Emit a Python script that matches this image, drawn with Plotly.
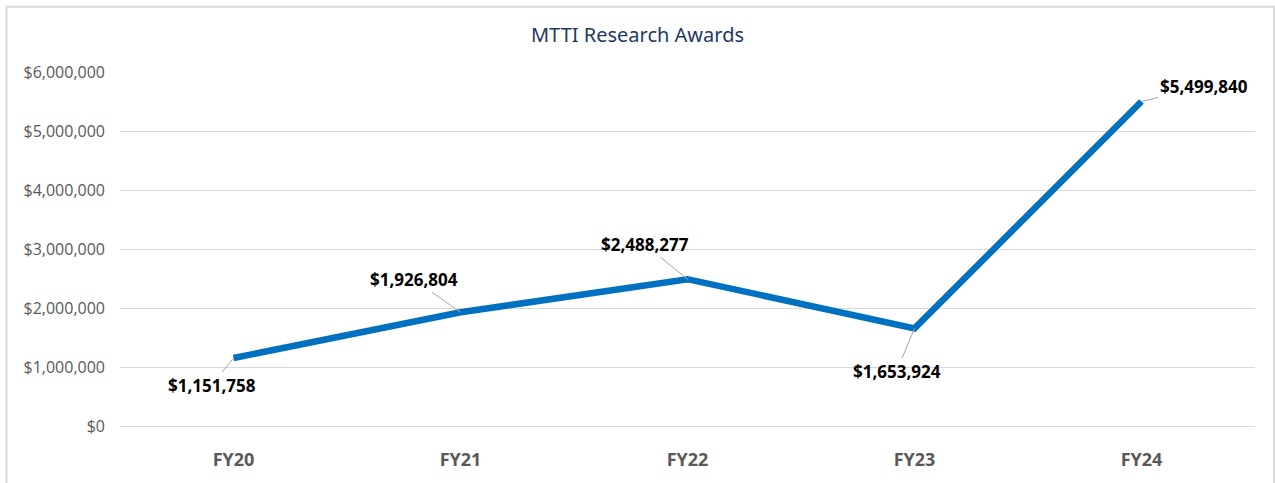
import plotly.graph_objects as go

categories = ["FY20", "FY21", "FY22", "FY23", "FY24"]
awards = [1151758, 1926804, 2488277, 1653924, 5499840]
label_text = ["$1,151,758", "$1,926,804", "$2,488,277", "$1,653,924", "$5,499,840"]
label_offsets = [(-22, 27), (-47, -33), (-43, -35), (-18, 43), (62, -15)]
tick_vals = [0, 1000000, 2000000, 3000000, 4000000, 5000000, 6000000]
tick_text = ["$0", "$1,000,000", "$2,000,000", "$3,000,000", "$4,000,000", "$5,000,000", "$6,000,000"]

W, H = 1275, 483
ml, mr, mt, mb = 120, 20, 72, 55
pw, ph = W - ml - mr, H - mt - mb

fig = go.Figure()
fig.add_trace(go.Scatter(
    x=categories, y=awards, mode="lines",
    line=dict(color="#0070C0", width=6.5),
    hoverinfo="skip", showlegend=False,
))

for c, v, t, (ax, ay) in zip(categories, awards, label_text, label_offsets):
    fig.add_annotation(
        x=c, y=v, text="<b>" + t + "</b>", showarrow=True,
        ax=ax, ay=ay, arrowhead=0, arrowwidth=1, arrowcolor="#a6a6a6",
        font=dict(family="Open Sans, Noto Sans, sans-serif", size=17, color="#000000"),
    )

# outer chart border
fig.add_shape(
    type="rect", xref="paper", yref="paper",
    x0=(6.5 - ml) / pw, x1=(1274 - ml) / pw,
    y0=(H - mb - 495) / ph, y1=(H - mb - 6.5) / ph,
    line=dict(color="#d9d9d9", width=2), layer="below",
)

fig.update_layout(
    width=W, height=H,
    margin=dict(l=ml, r=mr, t=mt, b=mb),
    paper_bgcolor="white", plot_bgcolor="white",
    title=dict(text="MTTI Research Awards", x=0.5, xref="container", xanchor="center",
               y=1 - 35 / H, yanchor="middle",
               font=dict(family="Noto Sans, sans-serif", size=20, color="#1f3864")),
    xaxis=dict(
        type="category", range=[-0.5, 4.5], showgrid=False, zeroline=False,
        showline=False, ticks="",
        tickfont=dict(family="Open Sans, sans-serif", size=18, color="#595959", weight="bold"),
        ticklabelstandoff=21,
    ),
    yaxis=dict(
        range=[0, 6000000], tickvals=tick_vals, ticktext=tick_text,
        showgrid=True, gridcolor="#d9d9d9", gridwidth=1,
        zeroline=True, zerolinecolor="#d9d9d9", zerolinewidth=1,
        showline=False, ticks="",
        tickfont=dict(family="Open Sans, sans-serif", size=16, color="#595959"),
        ticklabelstandoff=14,
    ),
)

fig.write_html("out.html", config={"displayModeBar": False},
               post_script="document.body.style.margin='0';document.body.style.overflow='hidden';")
